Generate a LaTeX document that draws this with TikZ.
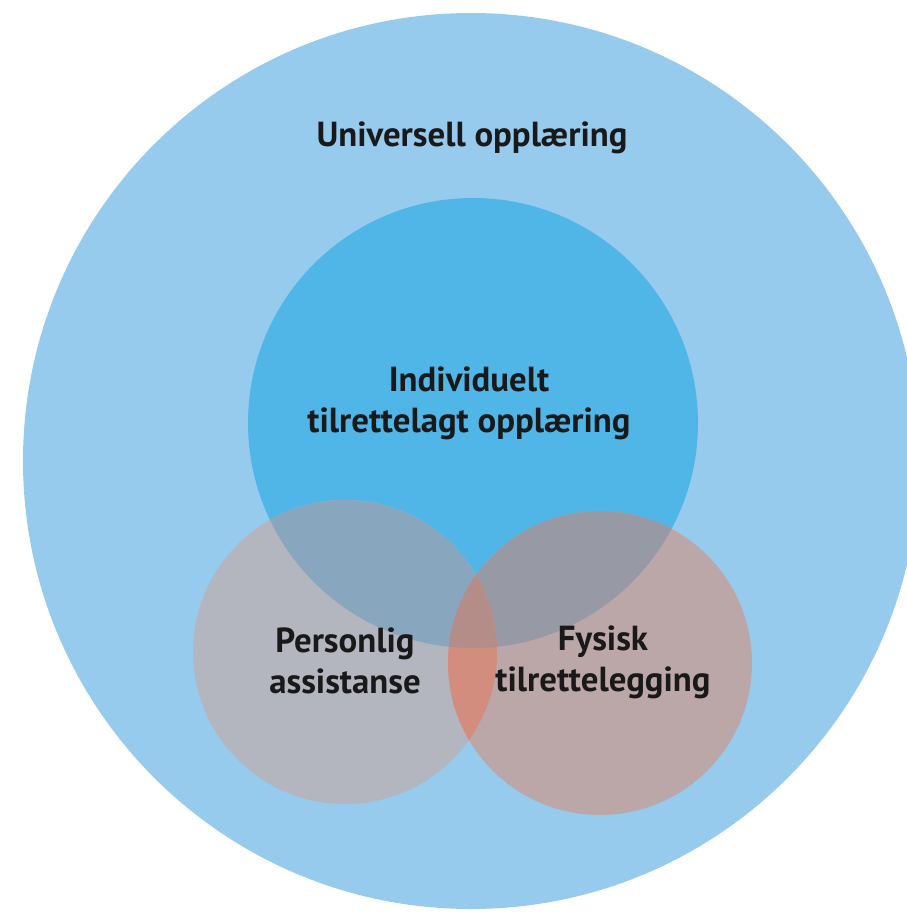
\documentclass[tikz,border=0pt]{standalone}
\usepackage{fontspec}
\setmainfont{PT Sans}
\usepackage{xcolor}
\usetikzlibrary{positioning}

\definecolor{outerblue}{HTML}{96CBEE}
\definecolor{innerblue}{HTML}{50B6E7}
\definecolor{leftgrey}{HTML}{B3B5BF}
\definecolor{rightpink}{HTML}{BBA7A8}
\definecolor{leftmid}{HTML}{88A7BE}
\definecolor{rightmid}{HTML}{979AA4}
\definecolor{smallboth}{HTML}{D38D7E}
\definecolor{allthree}{HTML}{B48C88}

\tikzset{
    venntext/.style={font=\fontsize{19.8}{23.5}\selectfont\bfseries, text=black!90, align=center},
}

\begin{document}
\begin{tikzpicture}[x=0.02cm, y=0.02cm]
    \useasboundingbox (0,0) rectangle (907,-914);

    % Circle centres
    \coordinate (U) at (471,-461);
    \coordinate (I) at (473,-423);
    \coordinate (P) at (345,-652);
    \coordinate (F) at (600,-663);

    % Base circles
    \fill [outerblue] (U) circle [radius=448];
    \fill [innerblue] (I) circle [radius=225];
    \fill [leftgrey] (P) circle [radius=152];
    \fill [rightpink] (F) circle [radius=152];

    % Overlaps
    \begin{scope}
        \clip (I) circle [radius=225];
        \fill [leftmid] (P) circle [radius=152];
        \fill [rightmid] (F) circle [radius=152];
    \end{scope}
    \begin{scope}
        \clip (P) circle [radius=152];
        \fill [smallboth] (F) circle [radius=152];
        \clip (F) circle [radius=152];
        \fill [allthree] (I) circle [radius=225];
    \end{scope}

    % Labels
    \node [venntext] (univ) at (472,-138) {Universell opplæring};
    \node [venntext] (indiv) at (469,-403) {Individuelt\\tilrettelagt opplæring};
    \node [venntext] (person) at (345,-661) {Personlig\\assistanse};
    \node [venntext] (fysisk) at (603,-662) {Fysisk\\tilrettelegging};

\end{tikzpicture}
\end{document}
